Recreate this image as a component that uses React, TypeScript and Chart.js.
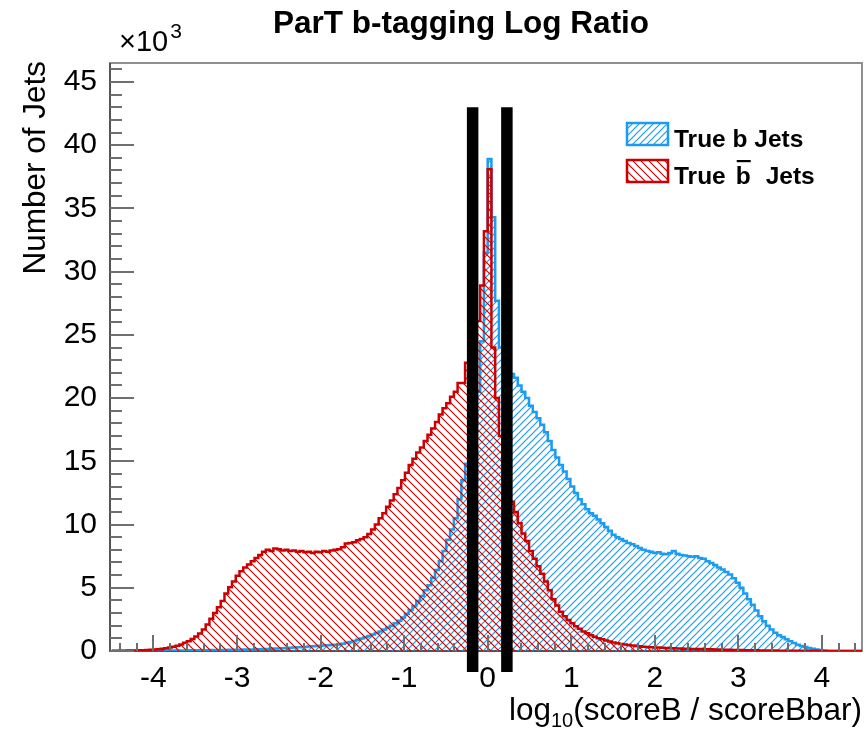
import React, { useEffect, useRef } from "react";
import { Chart, registerables } from "chart.js";

Chart.register(...registerables);

// ---------- data ----------
const TITLE = "ParT b-tagging Log Ratio";
const Y_TITLE = "Number of Jets";
const LEGEND_B = "True b Jets";
const BIN_LO = -4.5;
const BIN_WIDTH = 0.045;
const X_MIN = -4.52;
const X_MAX = 4.48;
const Y_MIN = 0;
const Y_MAX = 46.5; // thousands
const xMajorTicks = [-4, -3, -2, -1, 0, 1, 2, 3, 4];
const yMajorTicks = [0, 5, 10, 15, 20, 25, 30, 35, 40, 45];
const cutValues = [-0.18, 0.23];
const CUT_TOP = 43;

// True b jets (thousands per bin), bins from -4.5 in steps of 0.045
const trueBJets = [
  0, 0, 0.01, 0, 0.01, 0.01, 0.01, 0.01, 0.02, 0.02,
  0.02, 0.02, 0.03, 0.02, 0.03, 0.03, 0.04, 0.03, 0.04, 0.04,
  0.05, 0.04, 0.05, 0.06, 0.05, 0.06, 0.07, 0.06, 0.07, 0.08,
  0.08, 0.09, 0.09, 0.1, 0.1, 0.11, 0.12, 0.12, 0.13, 0.14,
  0.15, 0.16, 0.18, 0.19, 0.2, 0.22, 0.23, 0.25, 0.27, 0.29,
  0.3, 0.32, 0.35, 0.37, 0.4, 0.42, 0.44, 0.46, 0.47, 0.5,
  0.52, 0.58, 0.65, 0.72, 0.8, 0.88, 0.98, 1.08, 1.18, 1.3,
  1.42, 1.55, 1.7, 1.85, 2.0, 2.2, 2.4, 2.65, 2.95, 3.25,
  3.55, 3.95, 4.35, 4.8, 5.2, 5.8, 6.4, 7.1, 7.9, 8.8,
  9.6, 10.5, 12.0, 13.5, 14.8, 16.5, 18.5, 20.5, 24.5, 31.5,
  38.9, 34.3, 27.7, 24.0, 23.0, 22.4, 21.9, 21.6, 21.0, 20.5,
  20.0, 19.4, 18.9, 18.4, 17.9, 17.3, 16.6, 15.9, 15.3, 14.7,
  14.2, 13.6, 13.0, 12.5, 12.0, 11.6, 11.2, 10.9, 10.7, 10.4,
  10.1, 9.8, 9.5, 9.2, 9.0, 8.85, 8.7, 8.55, 8.45, 8.3,
  8.15, 8.0, 7.9, 7.85, 7.75, 7.8, 7.7, 7.65, 7.75, 7.9,
  7.7, 7.6, 7.55, 7.5, 7.45, 7.5, 7.35, 7.3, 7.1, 6.95,
  6.8, 6.6, 6.45, 6.25, 6.05, 5.75, 5.4, 5.0, 4.55, 4.1,
  3.65, 3.2, 2.75, 2.35, 2.0, 1.7, 1.45, 1.25, 1.1, 0.92,
  0.78, 0.63, 0.5, 0.4, 0.31, 0.24, 0.18, 0.12, 0.07, 0.04,
  0, 0, 0, 0, 0, 0, 0, 0, 0, 0,
];

// True b-bar jets (thousands per bin)
const trueBbarJets = [
  0.01, 0.01, 0.02, 0.02, 0.03, 0.03, 0.04, 0.05, 0.06, 0.08,
  0.1, 0.12, 0.14, 0.17, 0.22, 0.27, 0.34, 0.42, 0.52, 0.65,
  0.78, 0.95, 1.15, 1.38, 1.7, 2.1, 2.55, 3.0, 3.45, 3.95,
  4.55, 5.05, 5.5, 5.95, 6.3, 6.6, 6.85, 7.1, 7.35, 7.6,
  7.85, 8.0, 7.9, 8.1, 8.05, 7.95, 8.0, 7.9, 7.95, 7.85,
  7.9, 7.8, 7.85, 7.75, 7.85, 7.8, 7.9, 7.85, 7.95, 8.0,
  8.05, 8.2, 8.5, 8.55, 8.6, 8.75, 8.85, 9.0, 9.25, 9.6,
  10.0, 10.5, 10.9, 11.4, 11.9, 12.4, 12.9, 13.5, 14.1, 14.7,
  15.2, 15.7, 16.1, 16.6, 17.1, 17.6, 18.1, 18.7, 19.2, 19.6,
  20.1, 20.5, 21.2, 21.2, 22.8, 23.5, 24.5, 26.1, 28.9, 33.2,
  38.1, 24.0, 20.0, 17.0, 15.0, 13.3, 11.8, 11.0, 10.1, 9.3,
  8.7, 7.9, 7.3, 6.7, 6.1, 5.5, 4.8, 4.1, 3.6, 3.1,
  2.75, 2.45, 2.2, 1.95, 1.75, 1.55, 1.4, 1.25, 1.12, 1.0,
  0.92, 0.83, 0.75, 0.68, 0.62, 0.56, 0.51, 0.47, 0.43, 0.4,
  0.37, 0.34, 0.32, 0.3, 0.28, 0.27, 0.25, 0.24, 0.22, 0.21,
  0.2, 0.19, 0.18, 0.17, 0.16, 0.15, 0.15, 0.14, 0.13, 0.13,
  0.12, 0.11, 0.1, 0.1, 0.09, 0.08, 0.08, 0.07, 0.06, 0.06,
  0.05, 0.05, 0.04, 0.04, 0.03, 0.03, 0.03, 0.02, 0.02, 0.02,
  0.02, 0.01, 0.01, 0.01, 0.01, 0.01, 0, 0.01, 0, 0,
  0, 0, 0, 0, 0, 0, 0, 0, 0, 0,
];

// ---------- styling ----------
const BLUE = "#1a9cf2";
const RED = "#cc0000";
const FONT = "'Liberation Sans', Arial, Helvetica, sans-serif";

function toPoints(values: number[]) {
  const pts = values.map((v, i) => ({ x: BIN_LO + i * BIN_WIDTH, y: v }));
  pts.push({ x: BIN_LO + values.length * BIN_WIDTH, y: values[values.length - 1] });
  return pts;
}

function minorValues(major: number[], sub: number, lo: number, hi: number) {
  const step = (major[1] - major[0]) / sub;
  const out: number[] = [];
  for (let v = major[0] - step * Math.floor((major[0] - lo) / step); v <= hi + 1e-9; v += step) {
    const r = Math.round(v * 1000) / 1000;
    if (!major.some((m) => Math.abs(m - r) < 1e-6)) out.push(r);
  }
  return out;
}

function makeHatch(ctx: CanvasRenderingContext2D, color: string, size: number, forward: boolean) {
  const c = document.createElement("canvas");
  c.width = size;
  c.height = size;
  const g = c.getContext("2d")!;
  g.strokeStyle = color;
  g.lineWidth = 1.2;
  g.beginPath();
  if (forward) {
    g.moveTo(0, size); g.lineTo(size, 0);
    g.moveTo(-size / 2, size / 2); g.lineTo(size / 2, -size / 2);
    g.moveTo(size / 2, size * 1.5); g.lineTo(size * 1.5, size / 2);
  } else {
    g.moveTo(0, 0); g.lineTo(size, size);
    g.moveTo(-size / 2, size / 2); g.lineTo(size / 2, size * 1.5);
    g.moveTo(size / 2, -size / 2); g.lineTo(size * 1.5, size / 2);
  }
  g.stroke();
  return ctx.createPattern(c, "repeat")!;
}

export default function App() {
  const ref = useRef<HTMLCanvasElement | null>(null);

  useEffect(() => {
    const canvas = ref.current!;
    const ctx = canvas.getContext("2d")!;
    const blueHatch = makeHatch(ctx, BLUE, 7, true);
    const redHatch = makeHatch(ctx, RED, 8, false);

    const framePlugin = {
      id: "frame",
      beforeDatasetsDraw(chart: any) {
        const { ctx, chartArea: a } = chart;
        ctx.save();
        ctx.strokeStyle = "#8f8f8f";
        ctx.lineWidth = 2;
        ctx.strokeRect(a.left, a.top, a.right - a.left, a.bottom - a.top);
        ctx.strokeStyle = "#555";
        ctx.beginPath();
        ctx.moveTo(a.left, a.top);
        ctx.lineTo(a.left, a.bottom);
        ctx.lineTo(a.right, a.bottom);
        ctx.stroke();
        ctx.restore();
      },
      afterDatasetsDraw(chart: any) {
        const { ctx, chartArea: a, scales } = chart;
        const xs = scales.x, ys = scales.y;
        ctx.save();
        ctx.strokeStyle = "#6f6f6f";
        ctx.lineWidth = 2;
        ctx.beginPath();
        for (const v of xMajorTicks) {
          const px = Math.round(xs.getPixelForValue(v));
          ctx.moveTo(px, a.bottom); ctx.lineTo(px, a.bottom - 16);
        }
        for (const v of minorValues(xMajorTicks, 5, X_MIN, X_MAX)) {
          const px = Math.round(xs.getPixelForValue(v));
          ctx.moveTo(px, a.bottom); ctx.lineTo(px, a.bottom - 8);
        }
        for (const v of yMajorTicks) {
          const py = Math.round(ys.getPixelForValue(v));
          ctx.moveTo(a.left, py); ctx.lineTo(a.left + 24, py);
        }
        for (const v of minorValues(yMajorTicks, 5, Y_MIN, Y_MAX)) {
          const py = Math.round(ys.getPixelForValue(v));
          ctx.moveTo(a.left, py); ctx.lineTo(a.left + 12, py);
        }
        ctx.stroke();
        ctx.restore();
      },
      afterDraw(chart: any) {
        const { ctx, chartArea: a, scales } = chart;
        const xs = scales.x, ys = scales.y;
        ctx.save();
        // cut bars
        ctx.fillStyle = "#000";
        const top = ys.getPixelForValue(CUT_TOP);
        for (const c of cutValues) {
          const px = xs.getPixelForValue(c);
          ctx.fillRect(px - 5.75, top, 11.5, a.bottom + 21 - top);
        }
        // title
        ctx.fillStyle = "#000";
        ctx.textBaseline = "alphabetic";
        ctx.textAlign = "center";
        ctx.font = `bold 31.5px ${FONT}`;
        ctx.fillText(TITLE, 461, 33);
        // x10^3
        ctx.textAlign = "left";
        ctx.font = `29px ${FONT}`;
        ctx.fillText("\u00d710", 119, 51);
        const w10 = ctx.measureText("\u00d710").width;
        ctx.font = `21px ${FONT}`;
        ctx.fillText("3", 119 + w10 + 2, 38);
        // y title
        ctx.save();
        ctx.translate(45, a.top - 2);
        ctx.rotate(-Math.PI / 2);
        ctx.textAlign = "right";
        ctx.font = `31.5px ${FONT}`;
        ctx.fillText(Y_TITLE, 0, 0);
        ctx.restore();
        // x title: log10(scoreB / scoreBbar), right aligned
        ctx.font = `31.5px ${FONT}`;
        const p1 = "log", p3 = "(scoreB / scoreBbar)";
        const w1 = ctx.measureText(p1).width, w3 = ctx.measureText(p3).width;
        ctx.font = `20px ${FONT}`;
        const w2 = ctx.measureText("10").width;
        const x0 = a.right - (w1 + w2 + w3);
        const base = 720;
        ctx.font = `31.5px ${FONT}`;
        ctx.fillText(p1, x0, base);
        ctx.font = `20px ${FONT}`;
        ctx.fillText("10", x0 + w1, base + 7);
        ctx.font = `31.5px ${FONT}`;
        ctx.fillText(p3, x0 + w1 + w2, base);
        // legend
        const boxes = [
          { y: 123, pat: blueHatch, col: BLUE },
          { y: 160, pat: redHatch, col: RED },
        ];
        for (const b of boxes) {
          ctx.fillStyle = "#fff";
          ctx.fillRect(627, b.y, 41, 22);
          ctx.fillStyle = b.pat;
          ctx.fillRect(627, b.y, 41, 22);
          ctx.strokeStyle = b.col;
          ctx.lineWidth = 2.5;
          ctx.strokeRect(627, b.y, 41, 22);
        }
        ctx.fillStyle = "#000";
        ctx.font = `bold 24.5px ${FONT}`;
        ctx.fillText(LEGEND_B, 674, 147);
        ctx.fillText("True", 674, 184);
        const wt = ctx.measureText("True").width;
        const bx = 674 + wt + 10;
        ctx.fillText("b", bx, 184);
        const wb = ctx.measureText("b").width;
        ctx.fillRect(bx + 1, 160, wb - 1, 2.2);
        ctx.fillText("Jets", bx + wb + 15, 184);
        ctx.restore();
      },
    };

    const chart = new Chart(canvas, {
      type: "line",
      data: {
        datasets: [
          {
            label: "True b\u0304 Jets",
            data: toPoints(trueBbarJets),
            stepped: "before",
            borderColor: RED,
            borderWidth: 2.5,
            backgroundColor: redHatch,
            fill: "origin",
            pointRadius: 0,
            order: 0,
          },
          {
            label: LEGEND_B,
            data: toPoints(trueBJets),
            stepped: "before",
            borderColor: BLUE,
            borderWidth: 2.5,
            backgroundColor: blueHatch,
            fill: "origin",
            pointRadius: 0,
            order: 1,
          },
        ],
      },
      options: {
        responsive: false,
        animation: false,
        events: [],
        layout: { padding: { left: 0, right: 4, top: 63, bottom: 0 } },
        plugins: { legend: { display: false }, tooltip: { enabled: false }, title: { display: false } },
        scales: {
          x: {
            type: "linear",
            min: X_MIN,
            max: X_MAX,
            grid: { display: false, drawTicks: false },
            border: { display: false },
            afterBuildTicks: (s: any) => { s.ticks = xMajorTicks.map((v) => ({ value: v })); },
            afterFit: (s: any) => { s.height = 79; },
            ticks: {
              autoSkip: false,
              maxRotation: 0,
              padding: 10,
              color: "#000",
              font: { family: FONT, size: 30 },
              callback: (v: any) => String(v),
            },
          },
          y: {
            type: "linear",
            min: Y_MIN,
            max: Y_MAX,
            grid: { display: false, drawTicks: false },
            border: { display: false },
            afterBuildTicks: (s: any) => { s.ticks = yMajorTicks.map((v) => ({ value: v })); },
            afterFit: (s: any) => { s.width = 110; },
            ticks: {
              autoSkip: false,
              padding: 13,
              color: "#000",
              font: { family: FONT, size: 30 },
              callback: (v: any) => String(v),
            },
          },
        },
      },
      plugins: [framePlugin],
    } as any);

    return () => chart.destroy();
  }, []);

  return (
    <div style={{ position: "fixed", left: 0, top: 0, width: 866, height: 730, background: "#fff" }}>
      <canvas ref={ref} width={866} height={730} style={{ display: "block" }} />
    </div>
  );
}
